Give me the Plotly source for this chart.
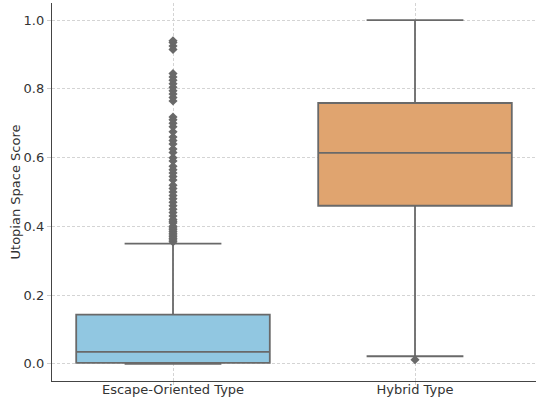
import plotly.graph_objects as go

categories = ["Escape-Oriented Type", "Hybrid Type"]
q1 = [0.003, 0.46]
median = [0.035, 0.614]
q3 = [0.143, 0.759]
lower_whisker = [0.0, 0.022]
upper_whisker = [0.35, 1.0]
box_colors = ["rgb(145,199,225)", "rgb(224,164,111)"]

escape_outliers = [
    0.355, 0.36, 0.365, 0.37, 0.375, 0.38, 0.385, 0.39, 0.395, 0.40, 0.41,
    0.415, 0.42, 0.43, 0.44, 0.45, 0.46, 0.47, 0.48, 0.49, 0.50, 0.51, 0.52,
    0.535, 0.545, 0.555, 0.565, 0.575, 0.59, 0.60, 0.615, 0.625, 0.64, 0.65,
    0.66, 0.675, 0.69, 0.70, 0.71, 0.718,
    0.765, 0.775, 0.785, 0.795, 0.805, 0.815, 0.825, 0.835, 0.845,
    0.915, 0.925, 0.935, 0.94,
]
hybrid_outliers = [0.012]
y_ticks = [0.0, 0.2, 0.4, 0.6, 0.8, 1.0]

line_gray = "rgb(105,105,105)"

fig = go.Figure()
for i, cat in enumerate(categories):
    fig.add_trace(go.Box(
        x=[cat], q1=[q1[i]], median=[median[i]], q3=[q3[i]],
        lowerfence=[lower_whisker[i]], upperfence=[upper_whisker[i]],
        width=0.8,
        fillcolor=box_colors[i], line=dict(color=line_gray, width=1.8),
        whiskerwidth=0.5, boxpoints=False, showlegend=False, hoverinfo="skip",
    ))

for cat, vals in zip(categories, [escape_outliers, hybrid_outliers]):
    fig.add_trace(go.Scatter(
        x=[cat] * len(vals), y=vals, mode="markers",
        marker=dict(symbol="diamond", size=7, color=line_gray,
                    line=dict(width=0)),
        showlegend=False, hoverinfo="skip",
    ))

fig.update_layout(
    width=537, height=397,
    margin=dict(l=52, r=1, t=3, b=16, autoexpand=False),
    paper_bgcolor="white", plot_bgcolor="white",
    boxmode="overlay",
    font=dict(family="DejaVu Sans", size=13, color="#333333"),
)
fig.update_xaxes(
    type="category", categoryorder="array", categoryarray=categories,
    range=[-0.5, 1.5], automargin=False,
    showline=True, linecolor="#444444", linewidth=1.3, mirror=False,
    showgrid=True, gridcolor="#d4d4d4", griddash="3px,2px", gridwidth=0.8,
    ticks="outside", ticklen=3, tickcolor="#cccccc",
    ticklabelstandoff=-7,
    tickfont=dict(size=13, color="#333333"),
)
fig.update_yaxes(
    range=[-0.05, 1.05], tickvals=y_ticks, ticktext=[f"{v:.1f}" for v in y_ticks],
    automargin=False,
    showline=True, linecolor="#444444", linewidth=1.3, mirror=False,
    showgrid=True, gridcolor="#d4d4d4", griddash="3px,2px", gridwidth=0.8,
    zeroline=False,
    ticks="outside", ticklen=4, tickcolor="#cccccc",
    tickfont=dict(size=13, color="#333333"),
    title=dict(text="Utopian Space Score", font=dict(size=13, color="#333333"),
               standoff=0),
)

fig.write_html("out.html", config={"displayModeBar": False},
               post_script="document.body.style.margin='0';")
